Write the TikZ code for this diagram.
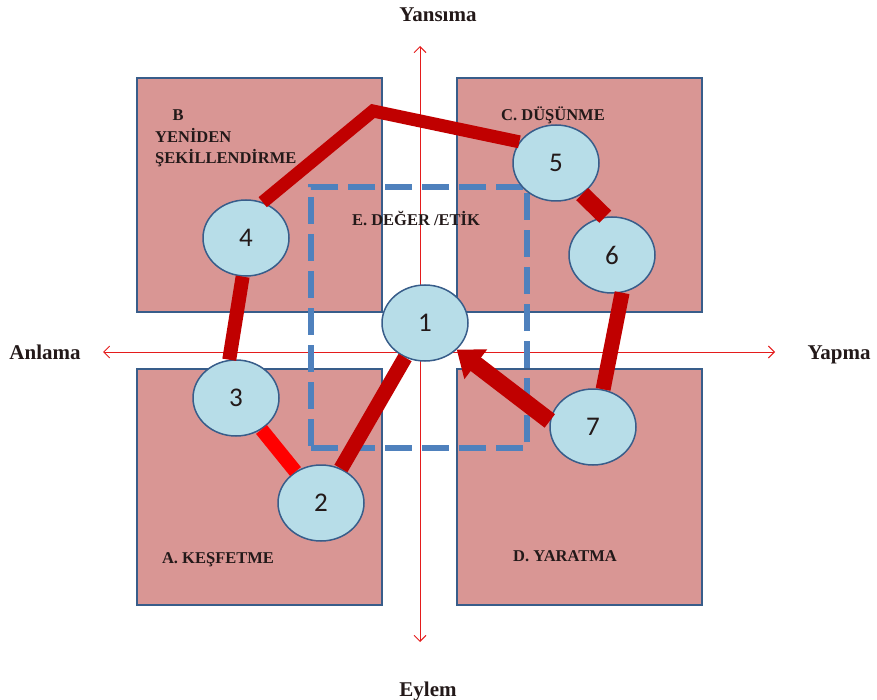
\documentclass[tikz,border=0pt]{standalone}
\usepackage{fontspec}
\setmainfont{Liberation Serif}
\newfontfamily\numfont{Carlito}
\usetikzlibrary{shapes.geometric,arrows.meta}
\definecolor{boxfill}{RGB}{217,150,148}
\definecolor{boxline}{RGB}{56,93,138}
\definecolor{ellfill}{RGB}{183,221,232}
\definecolor{dashblue}{RGB}{79,129,189}
\definecolor{darkred}{RGB}{192,0,0}
\definecolor{brightred}{RGB}{255,0,0}
\definecolor{axisred}{RGB}{228,28,28}
\definecolor{txt}{RGB}{35,25,25}
\begin{document}
\begin{tikzpicture}[x=1pt,y=-1pt,
  quad/.style={rectangle,draw=boxline,fill=boxfill,line width=1.5pt,inner sep=0pt},
  stage/.style={ellipse,draw=boxline,fill=ellfill,line width=1.5pt,minimum width=86pt,minimum height=76pt,inner sep=0pt,font=\numfont\fontsize{27}{27}\selectfont,text=txt},
  axisline/.style={draw=axisred,line width=0.9pt,{Straight Barb[length=6pt,width=12pt]}-{Straight Barb[length=6pt,width=12pt]}},
  valuebox/.style={rectangle,draw=dashblue,line width=6pt,dash pattern=on 27pt off 10pt,inner sep=0pt},
  redline/.style={draw=darkred,line width=13pt},
  lab/.style={font=\bfseries\fontsize{16.5}{18}\selectfont,inner sep=0pt,text=txt},
  axlab/.style={font=\bfseries\fontsize{21}{24}\selectfont,inner sep=0pt,text=txt}
]
\useasboundingbox (0,0) rectangle (877,700);
% quadrant boxes
\node[quad,minimum width=245pt,minimum height=234pt] (qB) at (259.5,195) {};
\node[quad,minimum width=245pt,minimum height=234pt] (qC) at (579.5,195) {};
\node[quad,minimum width=245pt,minimum height=236pt] (qA) at (259.5,487) {};
\node[quad,minimum width=245pt,minimum height=236pt] (qD) at (579.5,487) {};
% axes
\coordinate (axL) at (103,352);
\coordinate (axR) at (775,352);
\coordinate (axT) at (420,46);
\coordinate (axBt) at (420,642);
\draw[axisline] (axL) -- (axR);
\draw[axisline] (axT) -- (axBt);
% dashed value square
\node[valuebox,minimum width=216pt,minimum height=261pt] (val) at (419,317.5) {};
% stages
\node[stage] (n1) at (425,323) {1};
\node[stage] (n2) at (321,503) {2};
\node[stage] (n3) at (236,398) {3};
\node[stage] (n4) at (246,238) {4};
\node[stage] (n5) at (556,163) {5};
\node[stage] (n6) at (612,255) {6};
\node[stage] (n7) at (593,427) {7};
% connectors
\coordinate (bend) at (373,111);
\draw[redline,line join=miter] (n4.65) -- (bend) -- (n5.150);
\draw[redline,line width=17pt] (n5.-50) -- (n6.100);
\draw[redline,line width=15pt] (n6.-75) -- (n7.75);
\draw[darkred,line width=17pt,-{Triangle[length=24pt,width=36pt]}] (n7.172) -- (n1.-40);
\draw[redline,line width=15pt] (n1) -- (n2);
\draw[redline,draw=brightred,line width=14pt] (n2) -- (n3);
\draw[redline,line width=14pt] (n3.100) -- (n4.-95);
% labels
\node[lab,anchor=base] (tB) at (178,121) {B};
\node[lab,anchor=base west] (tYen) at (155,143) {YENİDEN};
\node[lab,anchor=base west] (tSek) at (155,164) {ŞEKİLLENDİRME};
\node[lab,anchor=base] (tC) at (553,121) {C. DÜŞÜNME};
\node[lab,anchor=base] (tE) at (416,226) {E. DEĞER /ETİK};
\node[lab,anchor=base] (tA) at (218,563) {A. KEŞFETME};
\node[lab,anchor=base] (tD) at (565,561) {D. YARATMA};
\node[axlab,anchor=base] (lTop) at (438,22) {Yansıma};
\node[axlab,anchor=base] (lBot) at (428,696) {Eylem};
\node[axlab,anchor=base] (lLeft) at (45,359) {Anlama};
\node[axlab,anchor=base] (lRight) at (839,359) {Yapma};
\end{tikzpicture}
\end{document}
